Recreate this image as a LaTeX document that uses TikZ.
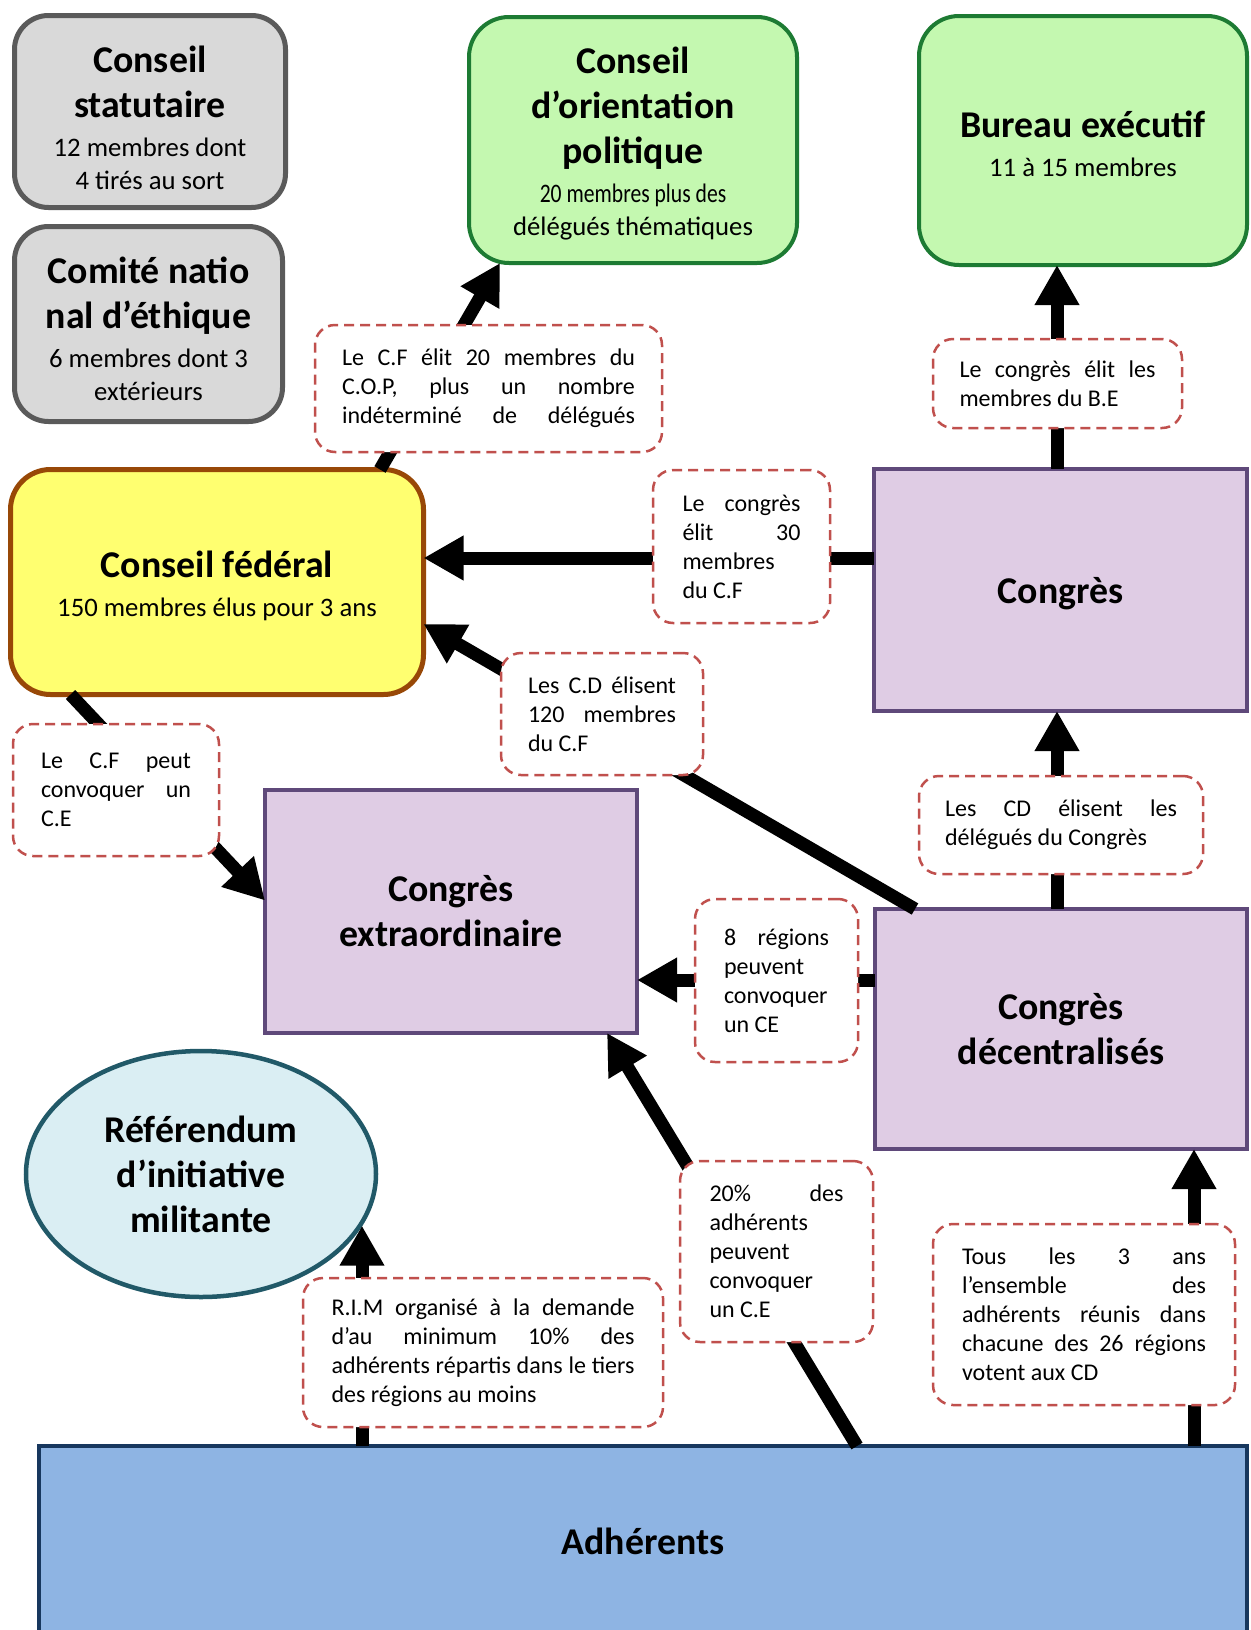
\documentclass[tikz,border=0pt]{standalone}
\usepackage{fontspec}
\setmainfont{Carlito}
\usepackage{graphicx}
\usetikzlibrary{arrows.meta,shapes.geometric,calc}

\definecolor{grayfill}{HTML}{D9D9D9}
\definecolor{grayline}{HTML}{5A5A5A}
\definecolor{greenfill}{HTML}{C4F8B0}
\definecolor{greenline}{HTML}{1D7B33}
\definecolor{yelfill}{HTML}{FFFF70}
\definecolor{yelline}{HTML}{984807}
\definecolor{purfill}{HTML}{DFCCE4}
\definecolor{purline}{HTML}{5F497A}
\definecolor{blufill}{HTML}{DAEEF3}
\definecolor{bluline}{HTML}{215968}
\definecolor{adhfill}{HTML}{8EB4E3}
\definecolor{adhline}{HTML}{17375E}
\definecolor{dashred}{HTML}{C0504D}

\newcommand\ttl{\fontsize{37.8}{45}\selectfont\bfseries}
\newcommand\sbt{\fontsize{26.7}{34}\selectfont\mdseries}
\newcommand\lbl{\fontsize{24}{29}\selectfont}
\newcommand\SP[1]{\leavevmode\hbox to \hsize{\spaceskip=0.226em plus 1fil minus 0.06em\relax #1}}

\begin{document}
\begin{tikzpicture}[x=1pt,y=-1pt,
  every node/.style={outer sep=0pt, inner sep=0pt},
  gbox/.style={draw=grayline, fill=grayfill, line width=5pt, rounded corners=34pt},
  grbox/.style={draw=greenline, fill=greenfill, line width=4pt, rounded corners=40pt},
  ybox/.style={draw=yelline, fill=yelfill, line width=5pt, rounded corners=40pt},
  pbox/.style={draw=purline, fill=purfill, line width=4pt, align=flush center},
  ttxt/.style={align=center, font=\ttl},
  note/.style={draw=dashred, fill=white, line width=2.5pt, dash pattern=on 10pt off 6pt,
     rounded corners=20pt, align=flush left, font=\lbl},
  arr/.style={line width=13pt, -{Triangle[length=40pt,width=42pt]}}]

\fill[white] (0,0) rectangle (1250,1630);
\useasboundingbox (0,0) rectangle (1250,1630);

% main boxes
\node[gbox, minimum width=271pt, minimum height=192pt] (cs) at (150,111.5) {};
\node[ttxt] (cs-t) at ([yshift=-6pt]cs.center)
  {Conseil\\statutaire\\[-6pt]{\sbt 12 membres dont}\\[-12pt]{\sbt 4 tirés au sort}};
\node[gbox, minimum width=268pt, minimum height=195pt] (cne) at (148.5,324) {};
\node[ttxt] (cne-t) at ([yshift=-5pt]cne.center)
  {Comité natio\\nal d’éthique\\[-6pt]{\sbt 6 membres dont 3}\\[-12pt]{\sbt extérieurs}};
\node[grbox, minimum width=328pt, minimum height=246pt] (cop) at (633,140) {};
\node[ttxt] (cop-t) at ([yshift=-4pt]cop.center)
  {Conseil\\d’orientation\\politique\\[-6pt]{\sbt \scalebox{0.81}[1]{20 membres plus des}}\\[-12pt]{\sbt délégués thématiques}};
\node[grbox, minimum width=328pt, minimum height=249pt] (be) at (1083,140.5) {};
\node[ttxt] (be-t) at ([yshift=-3pt]be.center)
  {Bureau exécutif\\[-6pt]{\sbt 11 à 15 membres}};
\node[ybox, minimum width=413pt, minimum height=225pt] (cf) at (217,582) {};
\node[ttxt] (cf-t) at ([yshift=-4pt]cf.center)
  {Conseil fédéral\\[-6pt]{\sbt 150 membres élus pour 3 ans}};
\node[pbox, minimum width=373pt, minimum height=242pt] (cong) at (1060.5,590) {};
\node[ttxt] (cong-t) at ([yshift=-4pt]cong.center) {Congrès};
\node[pbox, minimum width=372pt, minimum height=243pt, text width=350pt] (ce) at (451,911.5)
  {{\ttl Congrès\\extraordinaire\par}};
\node[pbox, minimum width=372pt, minimum height=240pt, text width=350pt] (cd) at (1061,1029)
  {{\ttl Congrès\\décentralisés\par}};
\node[ellipse, draw=bluline, fill=blufill, line width=4.5pt, minimum width=350pt, minimum height=246pt,
  align=center, font=\ttl] (ref) at (201,1174)
  {Référendum\\d’initiative\\militante};
\node[draw=adhline, fill=adhfill, line width=4pt, minimum width=1208pt, minimum height=190pt, font=\ttl] (adh) at (643,1541)
  {Adhérents};

% connectors
\draw[arr] ([xshift=163pt]cf.north) -- ([xshift=-133pt]cop.south);
\draw[arr] ([yshift=32pt]cong.west) -- ([yshift=24pt]cf.east);
\draw[arr] ([xshift=40pt]cd.north west) -- ([yshift=-42pt]cf.east);
\draw[arr] ([xshift=60pt]cf.south west) -- ([yshift=11pt]ce.west);
\draw[arr] ([yshift=49pt]cd.west) -- ([yshift=-68.5pt]ce.east);
\draw[arr] ([xshift=214pt]adh.north) -- ([xshift=156pt]ce.south);
\draw[arr] ([xshift=-281pt]adh.north) coordinate (a1) -- (a1 |- ref.-18);
\draw[arr] ([xshift=551pt]adh.north) -- ([xshift=133pt]cd.south);
\draw[arr] ([xshift=-4pt]cd.north) -- ([xshift=-3.5pt]cong.south);
\draw[arr] ([xshift=-3.5pt]cong.north) -- ([xshift=-26pt]be.south);

% dashed notes
\node[note, minimum width=347pt, minimum height=127pt, text width=293pt] (ncop) at (488.5,388.5)
  {\SP{Le C.F élit 20 membres du}\\\SP{C.O.P, plus un nombre}\\\SP{indéterminé de délégués}\par};
\node[note, minimum width=177pt, minimum height=153pt, text width=118pt] (n30) at (741.5,546.5)
  {\SP{Le congrès}\\\SP{élit 30}\\membres\\du C.F\par};
\node[note, minimum width=249pt, minimum height=89pt, text width=196pt] (nbe) at (1057.5,383.5)
  {\SP{Le congrès élit les}\\membres du B.E\par};
\node[note, minimum width=202pt, minimum height=122pt, text width=148pt] (ncd) at (602,714)
  {\SP{Les C.D élisent}\\\SP{120 membres}\\du C.F\par};
\node[note, minimum width=206pt, minimum height=132pt, text width=150pt] (ncf) at (116,790)
  {\SP{Le C.F peut}\\\SP{convoquer un}\\C.E\par};
\node[note, minimum width=284pt, minimum height=98pt, text width=232pt] (ndel) at (1061,825)
  {\SP{Les CD élisent les}\\délégués du Congrès\par};
\node[note, minimum width=163pt, minimum height=163pt, text width=105pt] (n8) at (776.5,980.5)
  {\SP{8 régions}\\peuvent\\convoquer\\un CE\par};
\node[note, minimum width=193pt, minimum height=181pt, text width=134pt] (n20) at (776.5,1251.5)
  {\SP{20\% des}\\adhérents\\peuvent\\convoquer\\un C.E\par};
\node[note, minimum width=360pt, minimum height=149pt, text width=303pt] (nrim) at (483,1352.5)
  {\SP{R.I.M organisé à la demande}\\\SP{d’au minimum 10\% des}\\\SP{adhérents répartis dans le tiers}\\des régions au moins\par};
\node[note, minimum width=302pt, minimum height=181pt, text width=244pt] (ntous) at (1084,1314.5)
  {\SP{Tous les 3 ans}\\\SP{l’ensemble des}\\\SP{adhérents réunis dans}\\\SP{chacune des 26 régions}\\votent aux CD\par};
\end{tikzpicture}
\end{document}
